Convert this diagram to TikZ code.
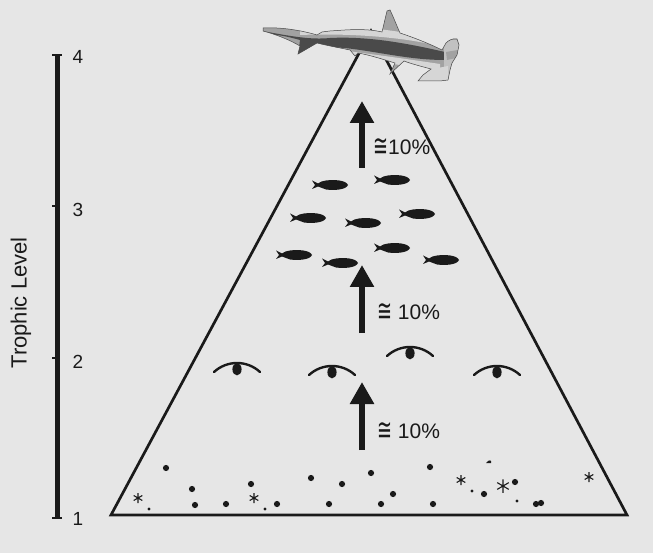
\documentclass[tikz,border=0pt]{standalone}
\usepackage{fontspec}
\usepackage{graphicx}
\setmainfont{Liberation Sans}
\newfontfamily\symfont{DejaVu Sans}
\usetikzlibrary{arrows.meta, positioning}
\definecolor{pyrbg}{HTML}{E6E6E6}
\definecolor{pyrink}{HTML}{1A1A1A}
\definecolor{sharkmid}{HTML}{A2A2A2}
\definecolor{sharkdark}{HTML}{4A4A4A}
\definecolor{sharklight}{HTML}{D6D6D6}

% outline of the hammerhead (pixel-like units, y grows downwards)
\newcommand{\sharkbody}{(263,28) .. controls (280,27) and (300,30) .. (317,35)
  -- (322,32) -- (330,31) .. controls (345,30) and (365,28) .. (382,32)
  -- (387,11) -- (390,10) .. controls (393,16) and (396,24) .. (400,33)
  .. controls (415,38) and (430,44) .. (442,50)
  -- (446,43) .. controls (449,40) and (453,38) .. (457,39) -- (459,45) -- (457,55)
  -- (452,63) -- (450,70) -- (448,80) -- (440,81) -- (418,81) -- (423,75) -- (431,69)
  .. controls (420,66) and (412,64) .. (404,61) -- (390,74) -- (395,63)
  .. controls (385,60) and (370,55) .. (358,53) -- (355,56) -- (350,50)
  .. controls (335,47) and (325,45) .. (317,43) -- (305,50) -- (298,54) -- (300,46)
  .. controls (290,40) and (275,34) .. (263,31) -- cycle}
\newcommand{\approxsign}{\raisebox{-0.08em}{\scalebox{0.85}[1.45]{\symfont ≅}}}

\begin{document}
\begin{tikzpicture}[x=1pt, y=-1pt,
  every node/.style={font=\fontsize{21}{24}\selectfont, text=pyrink, inner sep=0pt},
  axisnum/.style={font=\fontsize{19}{22}\selectfont, anchor=center},
  share/.style={anchor=west},
  side/.style={line width=2.7pt, pyrink, line join=miter},
  flow/.style={-{Triangle[width=23pt,length=22pt]}, line width=6pt, pyrink},
  fish/.pic={
    \fill[pyrink] (18,0) .. controls (16,-5) and (4,-5.5) .. (-4,-4.5)
      .. controls (-9,-3.5) .. (-12,-1.5) -- (-18,-4.5) -- (-15,0) -- (-18,4)
      -- (-12,1.5) .. controls (-8,3.5) .. (-4,4.5)
      .. controls (4,5.5) and (16,5) .. (18,0) -- cycle;
  },
  grazer/.pic={
    \draw[pyrink, line width=2.4pt, line cap=round] (-23,4) .. controls (-10,-8) and (10,-8) .. (23,4);
    \fill[pyrink] (0,1.2) ellipse [x radius=4.6, y radius=6.2];
  },
  speck/.pic={
    \draw[pyrink, line width=1.1pt] (0,-5) -- (0,5) (-4.3,-2.5) -- (4.3,2.5) (-4.3,2.5) -- (4.3,-2.5);
  },
]

\useasboundingbox (0,0) rectangle (653,553);
\fill[pyrbg] (0,0) rectangle (653,553);

% Trophic level axis
\draw[line width=5pt, pyrink] (57,55) -- (57,518);
\draw[line width=2pt, pyrink] (52,55) -- (62,55) (52,518) -- (62,518)
  (52,206) -- (57,206) (52,358) -- (57,358);
\node[axisnum] (n4) at (78,57) {4};
\node[axisnum] (n3) at (78,210) {3};
\node[axisnum] (n2) at (78,362) {2};
\node[axisnum] (n1) at (78,519) {1};
\node[rotate=90, font=\fontsize{22}{24}\selectfont] (tl) at (21,303) {Trophic Level};

% Pyramid
\coordinate (apex) at (371,31);
\coordinate (bl) at (111,515);
\coordinate (br) at (627,515);
\draw[side] (bl) -- (br) -- (apex) -- cycle;

% Producers at the base
\foreach \x/\y in {166/468, 192/489, 195/505, 226/504, 251/484, 277/504, 311/478,
  329/504, 342/484, 371/473, 381/504, 393/494, 430/467, 433/504, 484/494,
  515/482, 536/504, 541/503}
  \fill[pyrink] (\x,\y) circle (3.1);
\foreach \x/\y in {149/509, 265/509, 472/491, 517/501}
  \fill[pyrink] (\x,\y) circle (1.6);
\fill[pyrink] (486,463) .. controls (489,459) and (492,460) .. (491,463) -- cycle;
\pic at (138,498) {speck};
\pic at (254,498) {speck};
\pic at (461,480) {speck};
\pic[scale=1.35] at (503,486) {speck};
\pic at (589,477) {speck};

% Herbivores
\pic at (237,368) {grazer};
\pic at (332,371) {grazer};
\pic at (410,352) {grazer};
\pic at (497,371) {grazer};

% Small fish
\foreach \x/\y in {330/185, 392/180, 308/218, 363/223, 417/214, 294/255, 340/263, 392/248, 441/260}
  \pic at (\x,\y) {fish};

% Energy transfer arrows
\coordinate (a1s) at (362,168); \coordinate (a1t) at (362,101);
\coordinate (a2s) at (362,333); \coordinate (a2t) at (362,265);
\coordinate (a3s) at (362,450); \coordinate (a3t) at (362,382);
\draw[flow] (a1s) -- (a1t);
\draw[flow] (a2s) -- (a2t);
\draw[flow] (a3s) -- (a3t);
\node[share] (p1) at (373,147) {\approxsign10\%};
\node[share] (p2) at (377,312) {\approxsign\ 10\%};
\node[share] (p3) at (377,431) {\approxsign\ 10\%};

% Hammerhead on top
\fill[sharkmid] \sharkbody;
\begin{scope}
  \clip \sharkbody;
  % pale back
  \fill[sharklight] (300,27) .. controls (350,24) and (410,30) .. (450,44)
    -- (450,49) .. controls (410,37) and (350,33) .. (300,35) -- cycle;
  % dark flank stripe
  \fill[sharkdark] (262,31) .. controls (290,36) and (310,40) .. (330,38)
    .. controls (370,36) and (410,44) .. (445,52) -- (445,60)
    .. controls (410,60) and (380,52) .. (345,48)
    .. controls (320,46) and (300,50) .. (298,56) -- (300,40)
    .. controls (285,36) .. (262,33) -- cycle;
  % pale belly
  \fill[sharklight] (340,50) .. controls (370,54) and (400,58) .. (440,64)
    -- (440,70) .. controls (400,66) and (370,60) .. (340,55) -- cycle;
  % hammer
  \fill[sharklight!90!black] (444,40) rectangle (462,82);
  \fill[sharkmid] (446,52) -- (458,50) -- (456,58) -- (447,60) -- cycle;
  \fill[sharklight] (418,72) -- (448,66) -- (448,82) -- (418,82) -- cycle;
\end{scope}
\draw[sharkdark, line width=0.5pt] \sharkbody;

\end{tikzpicture}
\end{document}
